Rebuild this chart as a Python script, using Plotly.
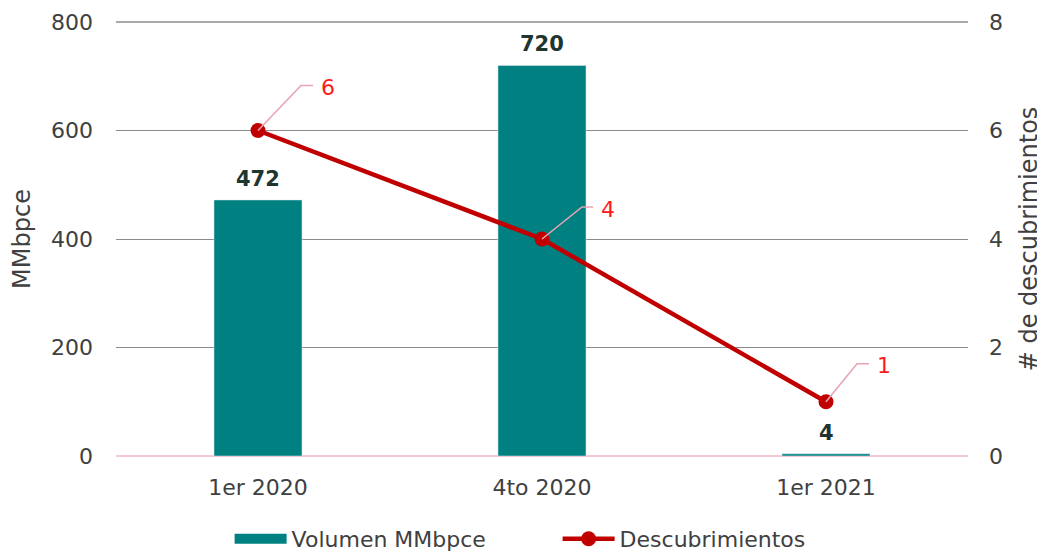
import plotly.graph_objects as go

categories = ["1er 2020", "4to 2020", "1er 2021"]
volumen = [472, 720, 4]
descubrimientos = [6, 4, 1]
left_ticks = [0, 200, 400, 600, 800]
right_ticks = [0, 2, 4, 6, 8]

# callout leader geometry for the point labels (pixels: diagonal dx, dy, horizontal run)
callouts = [(43, 45, 12), (40, 32, 11), (31, 38, 12)]

FONT = "DejaVu Sans"
TEAL = "#008080"
RED = "#c00000"
GREY = "#404040"

fig = go.Figure()
fig.add_trace(go.Bar(
    x=categories, y=volumen, name="Volumen MMbpce", showlegend=False,
    marker_color=TEAL, width=0.31,
))
# value labels above the bars
for c, v in zip(categories, volumen):
    fig.add_annotation(x=c, y=v, xref="x", yref="y", text=str(v), showarrow=False,
                       yanchor="bottom", yshift=7,
                       font=dict(family=FONT, size=21, color="#1e3530", weight="bold"))
# legend entry for the bars (wide rectangle swatch)
fig.add_trace(go.Scatter(
    x=[None], y=[None], name="Volumen MMbpce", mode="lines",
    line=dict(color=TEAL, width=15), showlegend=True,
))
fig.add_trace(go.Scatter(
    x=categories, y=descubrimientos, name="Descubrimientos", yaxis="y2",
    mode="lines+markers", line=dict(color=RED, width=4.5),
    marker=dict(color=RED, size=15), cliponaxis=False,
))

for c, v, (dx, dy, h) in zip(categories, descubrimientos, callouts):
    fig.add_shape(type="path", xref="x", yref="y2", xsizemode="pixel", ysizemode="pixel",
                  xanchor=c, yanchor=v, path=f"M0,0 L{dx},{dy} L{dx + h},{dy}",
                  line=dict(color="#e8a4b2", width=1.6), layer="above")
    fig.add_annotation(x=c, y=v, xref="x", yref="y2", text=str(v), showarrow=False,
                       xanchor="left", xshift=dx + h + 6, yshift=dy - 2,
                       font=dict(family=FONT, size=22, color="#ff1a1a"))

# top gridline (at 800, coincides with plot edge)
fig.add_shape(type="line", xref="paper", yref="paper", x0=0, x1=1, y0=1, y1=1,
              line=dict(color="#8c8c8c", width=1.3), layer="below")

fig.update_layout(
    width=1037, height=544,
    margin=dict(l=108, r=77, t=14, b=96),
    paper_bgcolor="white", plot_bgcolor="white",
    font=dict(family=FONT, size=22, color=GREY),
    bargap=0.69,
    showlegend=True,
    legend=dict(orientation="h", xref="container", yref="container",
                x=0.530, xanchor="center", y=0.024, yanchor="middle",
                font=dict(family=FONT, size=22, color=GREY),
                entrywidth=261, entrywidthmode="pixels", itemwidth=52,
                traceorder="normal"),
    xaxis=dict(showgrid=False, showline=False, ticks="", ticklabelstandoff=16, automargin=False,
               tickfont=dict(family=FONT, size=22, color=GREY)),
    yaxis=dict(range=[0, 800], tickvals=left_ticks, showgrid=True, gridcolor="#8c8c8c",
               gridwidth=1.3, zeroline=True, zerolinecolor="#f2c9d2", zerolinewidth=1.5,
               showline=False, ticklabelstandoff=22, automargin=False,
               title=dict(text="MMbpce", standoff=13, font=dict(family=FONT, size=24))),
    yaxis2=dict(range=[0, 8], tickvals=right_ticks, overlaying="y", side="right",
                showgrid=False, zeroline=False, showline=False, ticklabelstandoff=20,
                automargin=False,
                title=dict(text="# de descubrimientos", standoff=18, font=dict(family=FONT, size=24))),
)

fig.write_html("out.html")
